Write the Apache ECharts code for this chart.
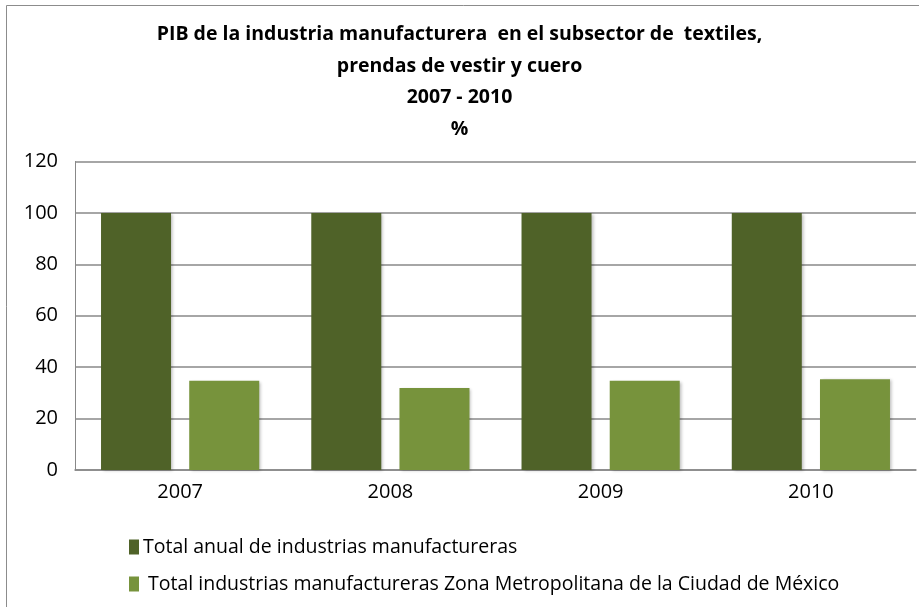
<!DOCTYPE html>
<html>
<head>
<meta charset="utf-8">
<script src="https://cdn.jsdelivr.net/npm/echarts@6/dist/echarts.min.js"></script>
<style>
html,body{margin:0;padding:0;background:#fff;}
#chart{width:919px;height:607px;}
</style>
</head>
<body>
<div id="chart"></div>
<script>
const categories = ['2007', '2008', '2009', '2010'];
const seriesNames = ['Total anual de industrias manufactureras', ' Total industrias manufactureras Zona Metropolitana de la Ciudad de México'];
const totalAnual = [100, 100, 100, 100];
const totalZMCM = [34.7, 31.9, 34.7, 35.3];
const yTicks = [0, 20, 40, 60, 80, 100, 120];
const titleLines = ['PIB de la industria manufacturera  en el subsector de  textiles,', 'prendas de vestir y cuero', '2007 - 2010', '%'];

const FONT = '"Liberation Sans Narrow", "Open Sans", sans-serif';
const chart = echarts.init(document.getElementById('chart'));
chart.setOption({
  animation: false,
  backgroundColor: '#fff',
  title: {
    text: titleLines.join('\n'),
    left: 'center',
    top: 14,
    textStyle: {fontFamily: FONT, fontWeight: 'bold', fontSize: 19.5, lineHeight: 31.5, color: '#000'}
  },
  graphic: [{
    type: 'rect', shape: {x: 6.5, y: 5.5, width: 940, height: 640},
    style: {fill: 'none', stroke: '#8c8c8c', lineWidth: 1}, silent: true
  }],
  legend: {
    orient: 'vertical',
    left: 124,
    top: 532,
    itemWidth: 10,
    itemHeight: 15,
    itemGap: 17,
    icon: 'rect',
    textStyle: {fontFamily: FONT, fontSize: 19.5, color: '#000', padding: [0, 0, 0, -1]},
    data: seriesNames
  },
  grid: {left: 75, right: 3, top: 161.5, bottom: 137, containLabel: false},
  xAxis: {
    type: 'category',
    data: categories,
    axisLine: {show: true, lineStyle: {color: '#888', width: 1.5}},
    axisTick: {show: false},
    axisLabel: {fontFamily: FONT, fontSize: 20, color: '#000', margin: 12}
  },
  yAxis: {
    type: 'value',
    min: 0, max: 120, interval: 20,
    axisLine: {show: true, lineStyle: {color: '#888', width: 1}},
    axisTick: {show: false},
    splitLine: {lineStyle: {color: '#888', width: 1.5}},
    axisLabel: {fontFamily: FONT, fontSize: 20, color: '#000', margin: 17,
      formatter: v => yTicks.includes(v) ? String(v) : ''}
  },
  series: [
    {name: seriesNames[0], type: 'bar', data: totalAnual, barWidth: 70, barGap: '26%',
     itemStyle: {color: '#4F6228', shadowColor: 'rgba(0,0,0,0.25)', shadowBlur: 3, shadowOffsetX: 2, shadowOffsetY: 1}},
    {name: seriesNames[1], type: 'bar', data: totalZMCM, barWidth: 70,
     itemStyle: {color: '#77933C', shadowColor: 'rgba(0,0,0,0.25)', shadowBlur: 3, shadowOffsetX: 2, shadowOffsetY: 1}}
  ]
});
</script>
</body>
</html>
